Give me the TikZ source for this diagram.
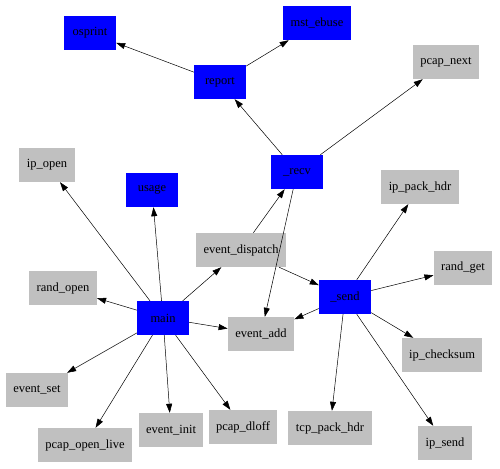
\documentclass[tikz,border=0pt]{standalone}
\usepackage{fontspec}
\setmainfont{Liberation Serif}
\usepackage{tikz}
\usetikzlibrary{arrows.meta}
\definecolor{boxgray}{RGB}{192,192,192}
\definecolor{boxblue}{RGB}{0,0,255}
\tikzset{
  fn/.style={fill=boxblue, minimum width=52pt, minimum height=34pt, inner xsep=7.5pt, inner ysep=0pt, font=\fontsize{12.5}{14}\selectfont},
  lib/.style={fill=boxgray, minimum width=52pt, minimum height=34pt, inner xsep=7.5pt, inner ysep=0pt, font=\fontsize{12.5}{14}\selectfont},
  call/.style={-{Triangle[length=9pt,width=6pt]}, black, line width=0.5pt}
}
\newcommand\fn[3]{\node[fn] (#1) at (#2) {#3};}
\newcommand\lib[3]{\node[lib] (#1) at (#2) {#3};}
\begin{document}
\begin{tikzpicture}[x=1pt,y=-1pt]
\useasboundingbox (0,0) rectangle (500,468);
\fn{osprint}{90,33}{osprint}
\fn{report}{220,82}{report}
\fn{elapse}{317,23}{mst\_ebuse}
\fn{recv}{297,172}{\_recv}
\fn{usage}{152,190}{usage}
\fn{main}{163,318}{main}
\fn{send}{345,297}{\_send}

\lib{pnext}{446,62}{pcap\_next}
\lib{packhdr}{420,187}{ip\_pack\_hdr}
\lib{ipopen}{47,165}{ip\_open}
\lib{dispatch}{241,250}{event\_dispatch}
\lib{randopen}{63,288}{rand\_open}
\lib{evadd}{261,334}{event\_add}
\lib{randget}{463,268}{rand\_get}
\lib{cksum}{442,355}{ip\_checksum}
\lib{evset}{37,390}{event\_set}
\lib{popen}{85,445}{pcap\_open\_live}
\lib{evinit}{171,430}{event\_init}
\lib{dloff}{243,427}{pcap\_dloff}
\lib{tcphdr}{330,428}{tcp\_pack\_hdr}
\lib{ipsend}{445,443}{ip\_send}

% calls
\draw[call] (report) -- (osprint);
\draw[call] (report) -- (elapse);
\draw[call] (recv) -- (report);
\draw[call] (recv) -- (pnext);
\draw[call] (recv) -- (evadd);
\draw[call] (dispatch) -- (recv);
\draw[call] (dispatch) -- (send);
\draw[call] (main) -- (dispatch);
\draw[call] (main) -- (ipopen);
\draw[call] (main) -- (usage);
\draw[call] (main) -- (randopen);
\draw[call] (main) -- (evadd);
\draw[call] (main) -- (evset);
\draw[call] (main) -- (popen);
\draw[call] (main) -- (evinit);
\draw[call] (main) -- (dloff);
\draw[call] (send) -- (evadd);
\draw[call] (send) -- (packhdr);
\draw[call] (send) -- (randget);
\draw[call] (send) -- (cksum);
\draw[call] (send) -- (tcphdr);
\draw[call] (send) -- (ipsend);
\end{tikzpicture}
\end{document}
